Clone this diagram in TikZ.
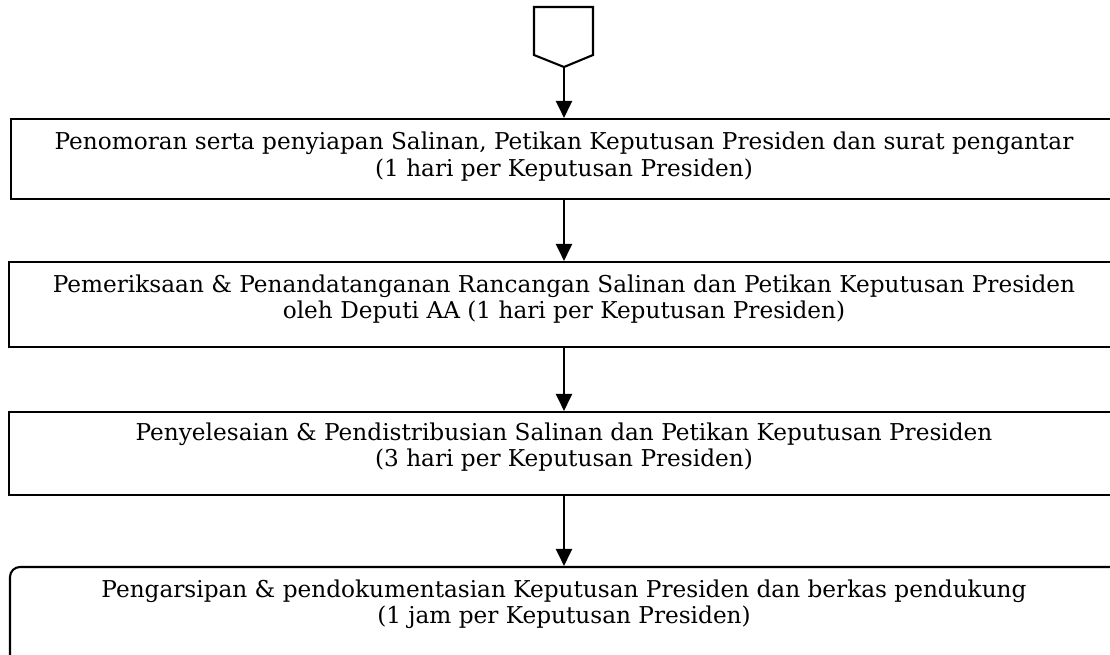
\documentclass[tikz,border=0pt]{standalone}
\usepackage{fontspec}
\setmainfont{DejaVu Serif}
\usetikzlibrary{arrows.meta}
\tikzset{
  box/.style={draw, line width=2.1pt, inner sep=0pt, anchor=center},
  txt/.style={anchor=base, inner sep=0pt, align=center, font=\fontsize{23.2}{27}\selectfont},
  arr/.style={line width=2.1pt, -{Triangle[width=16pt,length=17pt]}},
}
\begin{document}
\begin{tikzpicture}[x=1pt,y=-1pt]
\useasboundingbox (0,0) rectangle (1110,655);
% off-page connector
\draw[line width=2.1pt] (534,7) -- (593,7) -- (593,55) -- (564,67) -- (534,55) -- cycle;
\coordinate (p) at (564,67);
% boxes
\node[box, minimum width=1114pt, minimum height=80pt] (b1) at (568,159) {};
\node[box, minimum width=1116pt, minimum height=85pt] (b2) at (567,304.5) {};
\node[box, minimum width=1116pt, minimum height=83pt] (b3) at (567,453.5) {};
\node[box, rounded corners=10pt, minimum width=1115pt, minimum height=113pt] (b4) at (567.5,623.5) {};
% texts
\node[txt] (t1a) at (564,150) {Penomoran serta penyiapan Salinan, Petikan Keputusan Presiden dan surat pengantar};
\node[txt] (t1b) at (564,177) {(1 hari per Keputusan Presiden)};
\node[txt] (t2a) at (564,292) {Pemeriksaan \& Penandatanganan Rancangan Salinan dan Petikan Keputusan Presiden};
\node[txt] (t2b) at (564,318) {oleh Deputi AA (1 hari per Keputusan Presiden)};
\node[txt] (t3a) at (564,440) {Penyelesaian \& Pendistribusian Salinan dan Petikan Keputusan Presiden};
\node[txt] (t3b) at (564,466) {(3 hari per Keputusan Presiden)};
\node[txt] (t4a) at (564,597) {Pengarsipan \& pendokumentasian Keputusan Presiden dan berkas pendukung};
\node[txt] (t4b) at (564,623) {(1 jam per Keputusan Presiden)};
% connectors
\draw[arr] (p) -- (p |- b1.north);
\draw[arr] (p |- b1.south) -- (p |- b2.north);
\draw[arr] (p |- b2.south) -- (p |- b3.north);
\draw[arr] (p |- b3.south) -- (p |- b4.north);
\end{tikzpicture}
\end{document}
